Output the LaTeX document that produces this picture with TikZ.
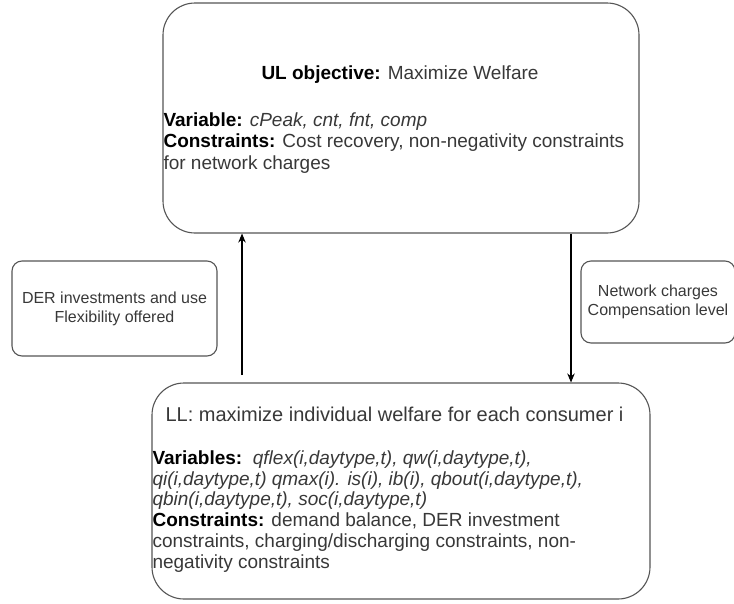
\documentclass[tikz,border=0pt]{standalone}
\usepackage{fontspec}
\setmainfont{Liberation Sans}
\usepackage{tikz}
\usetikzlibrary{arrows.meta}
\definecolor{boxline}{HTML}{555555}
\definecolor{txtgray}{HTML}{383838}

\begin{document}
\begin{tikzpicture}[x=1pt,y=-1pt,>={Stealth[length=9pt,width=7.5pt]},line width=1.1pt,
  bigbox/.style={draw=boxline,rounded corners=32pt,inner sep=0pt},
  smallbox/.style={draw=boxline,rounded corners=10pt,inner sep=0pt,align=center,text=txtgray,font=\fontsize{16}{19}\selectfont},
  txt/.style={inner sep=0pt,text=txtgray,align=left,font=\fontsize{19}{21.5}\selectfont}]
\useasboundingbox (0,0) rectangle (734,603);
% upper and lower level problems
\node[bigbox,minimum width=476pt,minimum height=230pt] (ul) at (401,118) {};
\node[bigbox,minimum width=498pt,minimum height=216pt] (ll) at (401,491) {};
\node[txt,anchor=base] (ultitle) at (400,79) {\textbf{\color{black}UL objective:} Maximize Welfare};
% base of a multi-line node is its last line
\node[txt,anchor=base west] (ulbody) at (163,169) {\textbf{\color{black}Variable:} \textit{cPeak, cnt, fnt, comp}\\
  \textbf{\color{black}Constraints:} Cost recovery, non-negativity constraints\\
  for network charges};
\node[txt,anchor=base west,font=\fontsize{20}{22}\selectfont] (lltitle) at (165,421) {LL: maximize individual welfare for each consumer i};
\node[txt,anchor=base west,font=\fontsize{19}{20.75}\selectfont] (llbody) at (152,568) {\textbf{\color{black}Variables:}\ \ \textit{qflex(i,daytype,t), qw(i,daytype,t),}\\
  \textit{qi(i,daytype,t) qmax(i). is(i), ib(i), qbout(i,daytype,t),}\\
  \textit{qbin(i,daytype,t), soc(i,daytype,t)}\\
  \textbf{\color{black}Constraints:} demand balance, DER investment\\
  constraints, charging/discharging constraints, non-\\
  negativity constraints};
% exchanged information
\node[smallbox,minimum width=205pt,minimum height=95pt] (der) at (114.5,308.5) {DER investments and use\\Flexibility offered};
\node[smallbox,minimum width=154pt,minimum height=82pt] (net) at (658,302) {Network charges\\Compensation level};
\coordinate (llout) at (242,375);
\draw[->] (llout) -- (llout |- ul.south);
\draw[->] (571,0 |- ul.south) -- (571,0 |- ll.north);
\end{tikzpicture}
\end{document}
